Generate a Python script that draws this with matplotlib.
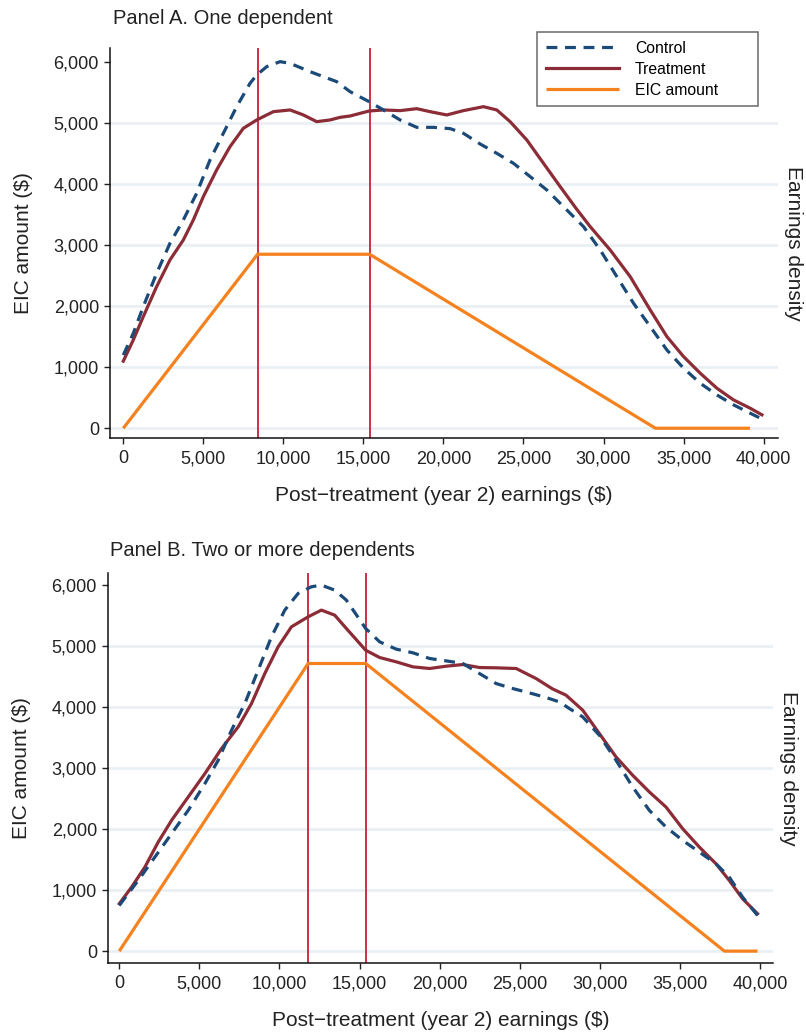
import matplotlib.pyplot as plt
import numpy as np

plt.rcParams['font.family'] = ['Liberation Sans', 'DejaVu Sans']

# Panel A: one dependent (EIC-axis units)
a_ctrl_x = [0, 625, 1250, 2083, 2917, 3750, 4583, 5417, 6250, 7083, 7917, 8333, 8958, 9792,
            10417, 11667, 13333, 14167, 15354, 16250, 17292, 18333, 19375, 20417, 21250,
            22292, 23333, 24375, 25417, 26458, 27708, 28750, 29792, 30833, 31875, 32917,
            33958, 35000, 36042, 37083, 38125, 39167, 39792]
a_ctrl_y = [1200, 1557, 1995, 2541, 3033, 3415, 3852, 4399, 4836, 5273, 5656, 5792, 5929, 6011,
            5984, 5847, 5683, 5519, 5355, 5219, 5055, 4934, 4934, 4913, 4836,
            4661, 4508, 4344, 4126, 3907, 3579, 3306, 2923, 2486, 2049, 1667,
            1284, 984, 738, 546, 383, 246, 165]
a_treat_x = [0, 625, 1250, 2083, 2917, 3750, 4375, 5000, 5833, 6667, 7500, 8333, 9375, 10417,
             11250, 12083, 12917, 13542, 14167, 15354, 16250, 17292, 18333, 19167, 20208,
             21250, 22500, 23333, 24167, 25208, 26250, 27292, 28300, 29167, 30417, 31667,
             32917, 33958, 35000, 36042, 37083, 38125, 39167, 39896]
a_treat_y = [1100, 1448, 1831, 2322, 2760, 3087, 3415, 3798, 4235, 4617, 4918, 5055, 5191, 5219,
             5137, 5027, 5055, 5098, 5120, 5202, 5219, 5208, 5240, 5191, 5137,
             5208, 5273, 5219, 5027, 4727, 4344, 3962, 3600, 3306, 2923, 2486,
             1940, 1503, 1175, 902, 656, 464, 328, 220]
a_eic_x = [0, 8390, 15390, 33241, 39150]
a_eic_y = [0, 2853, 2853, 0, 0]
a_kinks = [8390, 15390]

# Panel B: two or more dependents
b_ctrl_x = [0, 1185, 2225, 3264, 4304, 5343, 6175, 7006, 7838, 8669, 9501, 10333, 11164, 11996,
            12620, 13451, 14179, 15385, 16258, 17297, 18337, 19376, 20416, 21455, 22495,
            23534, 24574, 25613, 26653, 27484, 28108, 28940, 29979, 31019, 32058, 33098,
            34137, 35177, 36216, 37256, 38087, 38919, 39854]
b_ctrl_y = [749, 1160, 1543, 1926, 2309, 2746, 3129, 3621, 4059, 4606, 5153, 5591, 5864, 5974,
            6001, 5919, 5755, 5290, 5071, 4951, 4891, 4798, 4759, 4716, 4551,
            4387, 4305, 4234, 4158, 4086, 3977, 3840, 3539, 3129, 2691, 2308,
            2035, 1816, 1625, 1433, 1214, 886, 585]
b_treat_x = [0, 769, 1601, 2432, 3264, 4304, 5343, 6383, 7422, 8254, 9085, 9917, 10748, 11788,
             12620, 13451, 14179, 15385, 16258, 17297, 18337, 19376, 20416, 21455, 22495,
             23534, 24782, 26029, 27048, 27900, 28940, 29979, 31019, 32058, 33098, 34137,
             35177, 36216, 37256, 38087, 38919, 39854]
b_treat_y = [777, 1050, 1379, 1789, 2144, 2527, 2910, 3321, 3676, 4059, 4551, 4989, 5317, 5481,
             5591, 5509, 5290, 4934, 4814, 4743, 4661, 4634, 4672, 4699, 4650,
             4645, 4634, 4469, 4300, 4196, 3950, 3567, 3184, 2883, 2610, 2363,
             2008, 1707, 1433, 1160, 859, 613]
b_eic_x = [0, 11790, 15390, 37783, 39850]
b_eic_y = [0, 4716, 4716, 0, 0]
b_kinks = [11790, 15390]

x_ticks = [0, 5000, 10000, 15000, 20000, 25000, 30000, 35000, 40000]
y_ticks = [0, 1000, 2000, 3000, 4000, 5000, 6000]

c_ctrl = '#1b4a78'
c_treat = '#8c2c36'
c_eic = '#f5821f'
c_kink = '#c8203a'

fig = plt.figure(figsize=(8.06, 10.35), dpi=100)
axA = fig.add_axes([110/806, 1-438/1035, (778-110)/806, (438-48)/1035])
axB = fig.add_axes([108/806, 1-963/1035, (773-108)/806, (963-573)/1035])


def draw(ax, cx, cy, tx, ty, ex, ey, kinks, xlim, ylim):
    for k in kinks:
        ax.axvline(k, color=c_kink, lw=1.3, zorder=2)
    ax.plot(ex, ey, color=c_eic, lw=2.3, zorder=3, solid_capstyle='butt', label='EIC amount')
    ax.plot(tx, ty, color=c_treat, lw=2.3, zorder=4, label='Treatment')
    ax.plot(cx, cy, color=c_ctrl, lw=2.3, ls=(0, (3.4, 2.4)), zorder=5, label='Control')
    ax.set_xlim(*xlim)
    ax.set_ylim(*ylim)
    ax.set_xticks(x_ticks)
    ax.set_xticklabels([f'{v:,}' for v in x_ticks])
    ax.set_yticks(y_ticks)
    ax.set_yticklabels([f'{v:,}' for v in y_ticks])
    ax.tick_params(axis='both', labelsize=13, length=4, width=1, direction='out', pad=4, colors='#222222')
    ax.tick_params(axis='x', pad=5)
    ax.grid(axis='y', color='#e9f0f4', lw=2)
    ax.set_axisbelow(True)
    ax.get_ygridlines()[-1].set_visible(False)
    for s in ['top', 'right']:
        ax.spines[s].set_visible(False)
    for s in ['left', 'bottom']:
        ax.spines[s].set_linewidth(1.1)
        ax.spines[s].set_color('#111111')
    ax.set_ylabel('EIC amount ($)', fontsize=15, color='#222222')
    ax.set_xlabel('Post\u2212treatment (year 2) earnings ($)', fontsize=15, color='#222222')
    ax.yaxis.set_label_coords(-0.116, 0.5)
    ax.xaxis.set_label_coords(0.5, -0.124)
    ax2 = ax.twinx()
    ax2.set_ylim(*ylim)
    ax2.set_yticks([])
    for s in ax2.spines.values():
        s.set_visible(False)
    ax2.set_ylabel('Earnings density', fontsize=15, rotation=270, color='#222222')
    ax2.yaxis.set_label_coords(1.037, 0.5)


draw(axA, a_ctrl_x, a_ctrl_y, a_treat_x, a_treat_y, a_eic_x, a_eic_y, a_kinks,
     (-830, 40900), (-160, 6235))
draw(axB, b_ctrl_x, b_ctrl_y, b_treat_x, b_treat_y, b_eic_x, b_eic_y, b_kinks,
     (-705, 40820), (-195, 6200))

fig.text(113/806, 1-18/1035, 'Panel A. One dependent', fontsize=14.5, va='center', color='#222222')
fig.text(110/806, 1-550/1035, 'Panel B. Two or more dependents', fontsize=14.5, va='center', color='#222222')

h, l = axA.get_legend_handles_labels()
order = [2, 1, 0]
leg = fig.legend([h[i] for i in order], [l[i] for i in order], loc='upper left',
                 bbox_to_anchor=(537/806, 1-32/1035, (758-537)/806, 0.0), mode='expand',
                 fontsize=11.3, frameon=True, fancybox=False, edgecolor='#444444',
                 handlelength=4.7, borderpad=0.55, labelspacing=0.38, handletextpad=1.0,
                 borderaxespad=0)
leg.get_frame().set_linewidth(1.1)

fig.savefig('out.png', dpi=100)
